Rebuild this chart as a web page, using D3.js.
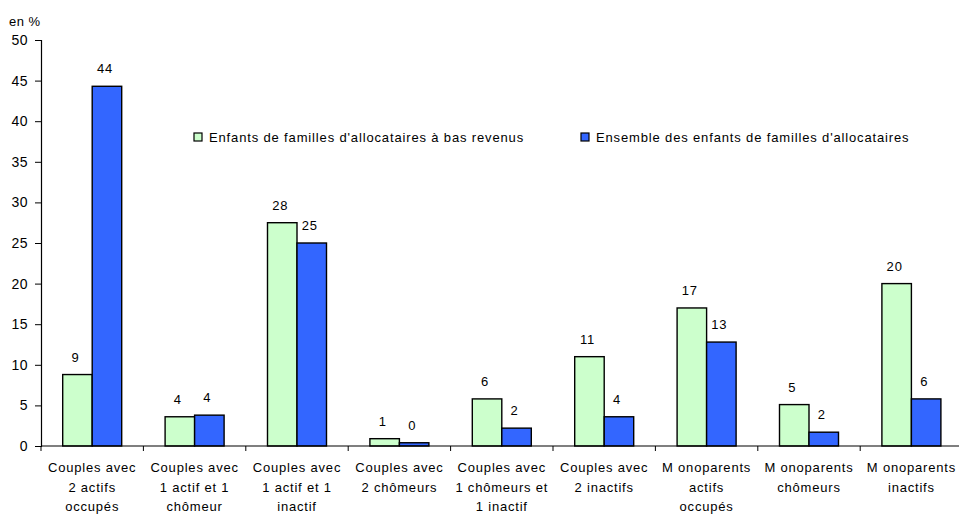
<!DOCTYPE html>
<html lang="fr">
<head>
<meta charset="UTF-8">
<title>Enfants de familles d'allocataires</title>
<script src="https://d3js.org/d3.v7.min.js"></script>
<style>
    body { margin: 0; background: #fff; }
    svg text { font-family: "Liberation Sans", Arial, sans-serif; fill: #000; }
</style>
</head>
<body>
<div id="chart"></div>
<script>
    // categories (lines of each label)
    const categories = [
        ["Couples avec", "2 actifs", "occupés"],
        ["Couples avec", "1 actif et 1", "chômeur"],
        ["Couples avec", "1 actif et 1", "inactif"],
        ["Couples avec", "2 chômeurs"],
        ["Couples avec", "1 chômeurs et", "1 inactif"],
        ["Couples avec", "2 inactifs"],
        ["M onoparents", "actifs", "occupés"],
        ["M onoparents", "chômeurs"],
        ["M onoparents", "inactifs"]
    ];
    const seriesNames = [
        "Enfants de familles d'allocataires à bas revenus",
        "Ensemble des enfants de familles d'allocataires"
    ];
    const basRevenus = [8.8, 3.6, 27.5, 0.9, 5.8, 11.0, 17.0, 5.1, 20.0];
    const ensemble   = [44.3, 3.8, 25.0, 0.4, 2.2, 3.6, 12.8, 1.7, 5.8];
    const yTicks = [0, 5, 10, 15, 20, 25, 30, 35, 40, 45, 50];
    const colors = ["#CCFFCC", "#3366FF"];

    const width = 959, height = 514;
    const margin = { left: 41, top: 40, bottom: 68 };

    const svg = d3.select("#chart").append("svg")
        .attr("width", width)
        .attr("height", height);

    const x = d3.scaleBand()
        .domain(d3.range(categories.length))
        .range([margin.left, margin.left + 9 * 102.4]);

    const y = d3.scaleLinear()
        .domain([0, 50])
        .range([height - margin.bottom, margin.top]);

    const barW = 29.5;
    const series = [basRevenus, ensemble];

    // bars
    series.forEach((vals, s) => {
        svg.append("g").selectAll("rect")
            .data(vals)
            .enter().append("rect")
            .attr("x", (d, i) => x(i) + x.bandwidth() / 2 - barW + s * barW)
            .attr("y", d => y(d))
            .attr("width", barW)
            .attr("height", d => y(0) - y(d))
            .style("fill", colors[s])
            .style("stroke", "#000")
            .style("stroke-width", 1.4);

        svg.append("g").selectAll("text")
            .data(vals)
            .enter().append("text")
            .attr("x", (d, i) => x(i) + x.bandwidth() / 2 - barW / 2 + s * barW - 2)
            .attr("y", d => y(d) - 13)
            .attr("text-anchor", "middle")
            .style("font-size", "13px")
            .style("letter-spacing", "0.8px")
            .text(d => Math.round(d));
    });

    // y axis
    const yAxis = svg.append("g")
        .attr("transform", `translate(${margin.left},0)`)
        .call(d3.axisLeft(y).tickValues(yTicks).tickSize(6).tickPadding(7));
    yAxis.select(".domain").attr("stroke-width", 1.2);
    yAxis.selectAll("text")
        .style("font-size", "14px")
        .style("letter-spacing", "0.5px")
        .attr("font-family", null);

    // x axis line + boundary ticks
    const xAxis = svg.append("g");
    xAxis.append("line")
        .attr("x1", margin.left).attr("x2", width)
        .attr("y1", y(0)).attr("y2", y(0))
        .attr("stroke", "#000").attr("stroke-width", 1.2);
    xAxis.selectAll(".tk")
        .data(d3.range(categories.length))
        .enter().append("line")
        .attr("x1", i => x(i)).attr("x2", i => x(i))
        .attr("y1", y(0)).attr("y2", y(0) + 5)
        .attr("stroke", "#000");

    const lab = xAxis.selectAll(".lab")
        .data(categories)
        .enter().append("text")
        .attr("text-anchor", "middle")
        .attr("x", (d, i) => x(i) + x.bandwidth() / 2)
        .style("font-size", "13px")
        .style("letter-spacing", "0.8px");
    lab.each(function (d) {
        const t = d3.select(this);
        d.forEach((line, k) => {
            t.append("tspan")
                .attr("x", t.attr("x"))
                .attr("y", y(0) + 26 + k * 19.5)
                .text(line);
        });
    });

    // unit label
    svg.append("text")
        .attr("x", 9).attr("y", 26)
        .style("font-size", "13px")
        .style("letter-spacing", "0.5px")
        .text("en %");

    // legend
    const legendX = [194, 581];
    const legend = svg.append("g").selectAll("g")
        .data(seriesNames)
        .enter().append("g")
        .attr("transform", (d, i) => `translate(${legendX[i]},133)`);
    legend.append("rect")
        .attr("width", 8).attr("height", 8)
        .style("fill", (d, i) => colors[i])
        .style("stroke", "#000")
        .style("stroke-width", 1.2);
    legend.append("text")
        .attr("x", 15).attr("y", 9)
        .style("font-size", "13px")
        .style("letter-spacing", "0.85px")
        .text(d => d);
</script>
</body>
</html>
